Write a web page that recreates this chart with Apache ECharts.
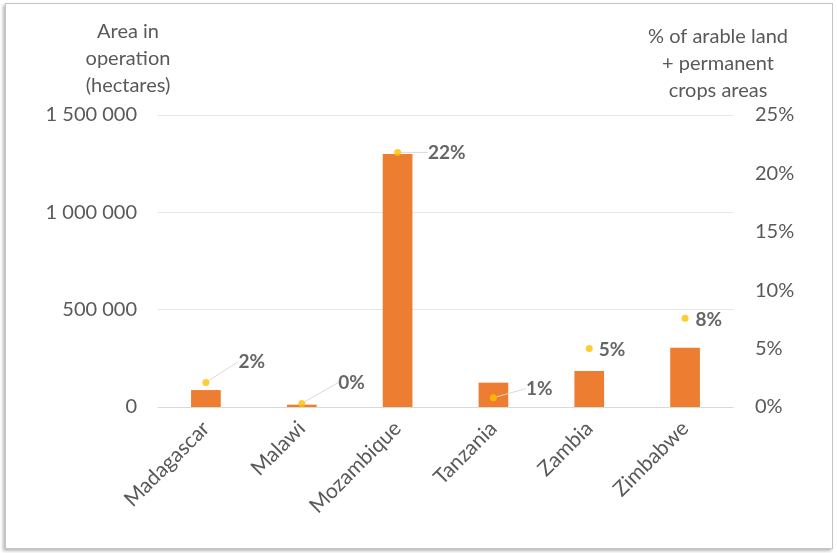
<!DOCTYPE html>
<html>
<head>
<meta charset="utf-8">
<script src="https://cdn.jsdelivr.net/npm/echarts@6/dist/echarts.min.js"></script>
<style>
  html, body { margin: 0; padding: 0; background: #ffffff; }
  #chart { position: absolute; left: 0; top: 0; width: 837px; height: 553px; }
  #frame {
    position: absolute; left: 5px; top: 3px; width: 826px; height: 544px;
    border: 1px solid #c4c4c4;
    box-shadow: -2px 2px 3px rgba(0, 0, 0, 0.28);
    pointer-events: none;
  }
</style>
</head>
<body>
<div id="chart"></div>
<div id="frame"></div>
<script>
// Irrigated area per country and its share of arable + permanent crop land
const countries = ['Madagascar', 'Malawi', 'Mozambique', 'Tanzania', 'Zambia', 'Zimbabwe'];
const areaHectares = [87000, 12000, 1300000, 125000, 185000, 305000];
const shareOfCropland = [2.1, 0.3, 21.8, 0.8, 5.0, 7.6];
const areaTicks = [0, 500000, 1000000, 1500000];
const shareTicks = [0, 5, 10, 15, 20, 25];

// where each percentage label sits relative to its point, and whether it gets a leader line
const labelNudge = [[24, -21], [28, -21], [22, 0], [24, -9], [1, 1], [2, 2]];
const leaderLine = [true, true, true, true, false, false];

const FONT = 'Lato';
const GREY = '#595959';

function spaced(n) {
  return String(n).replace(/\B(?=(\d{3})+(?!\d))/g, ' ');
}

const chart = echarts.init(document.getElementById('chart'), null, { renderer: 'canvas' });

chart.setOption({
  animation: false,
  backgroundColor: 'transparent',
  textStyle: { fontFamily: FONT },
  grid: { left: 158, right: 104, top: 115, bottom: 146, containLabel: false },
  xAxis: {
    type: 'category',
    data: countries,
    boundaryGap: true,
    axisLine: { lineStyle: { color: '#d9d9d9', width: 1 } },
    axisTick: { show: false },
    axisLabel: { rotate: 45, margin: 18, fontSize: 21, color: GREY, fontFamily: FONT }
  },
  yAxis: [
    {
      type: 'value',
      min: areaTicks[0],
      max: areaTicks[areaTicks.length - 1],
      interval: areaTicks[1] - areaTicks[0],
      name: 'Area in\noperation\n(hectares)',
      nameLocation: 'end',
      nameGap: 16,
      nameTextStyle: {
        fontSize: 20, color: GREY, fontFamily: FONT, lineHeight: 27,
        align: 'center', padding: [0, 60, 0, 0]
      },
      axisLine: { show: false },
      axisTick: { show: false },
      splitLine: { lineStyle: { color: '#e6e6e6', width: 1 } },
      axisLabel: { fontSize: 20, color: GREY, fontFamily: FONT, margin: 21, formatter: v => spaced(v) }
    },
    {
      type: 'value',
      min: shareTicks[0],
      max: shareTicks[shareTicks.length - 1],
      interval: shareTicks[1] - shareTicks[0],
      name: '% of arable land\n+ permanent\ncrops areas',
      nameLocation: 'end',
      nameGap: 11,
      nameTextStyle: {
        fontSize: 20, color: GREY, fontFamily: FONT, lineHeight: 27,
        align: 'center', padding: [0, 30, 0, 0]
      },
      axisLine: { show: false },
      axisTick: { show: false },
      splitLine: { show: false },
      axisLabel: { fontSize: 20, color: GREY, fontFamily: FONT, margin: 22, formatter: '{value}%' }
    }
  ],
  series: [
    {
      name: 'Area in operation',
      type: 'bar',
      yAxisIndex: 0,
      data: areaHectares,
      barWidth: '31%',
      itemStyle: { color: '#ed7d31' }
    },
    {
      name: 'Share of cropland',
      type: 'scatter',
      yAxisIndex: 1,
      symbol: 'circle',
      symbolSize: 7,
      itemStyle: { color: '#ffc000' },
      data: shareOfCropland.map((v, i) => ({
        value: v,
        labelLine: { show: leaderLine[i] }
      })),
      label: {
        show: true,
        position: 'right',
        distance: 5,
        fontSize: 19,
        fontWeight: 'bold',
        color: '#404040',
        fontFamily: FONT,
        formatter: p => Math.round(p.value) + '%'
      },
      labelLine: { show: true, lineStyle: { color: '#d9d9d9', width: 1 } },
      labelLayout: p => ({ dx: labelNudge[p.dataIndex][0], dy: labelNudge[p.dataIndex][1] })
    }
  ]
});
</script>
</body>
</html>
